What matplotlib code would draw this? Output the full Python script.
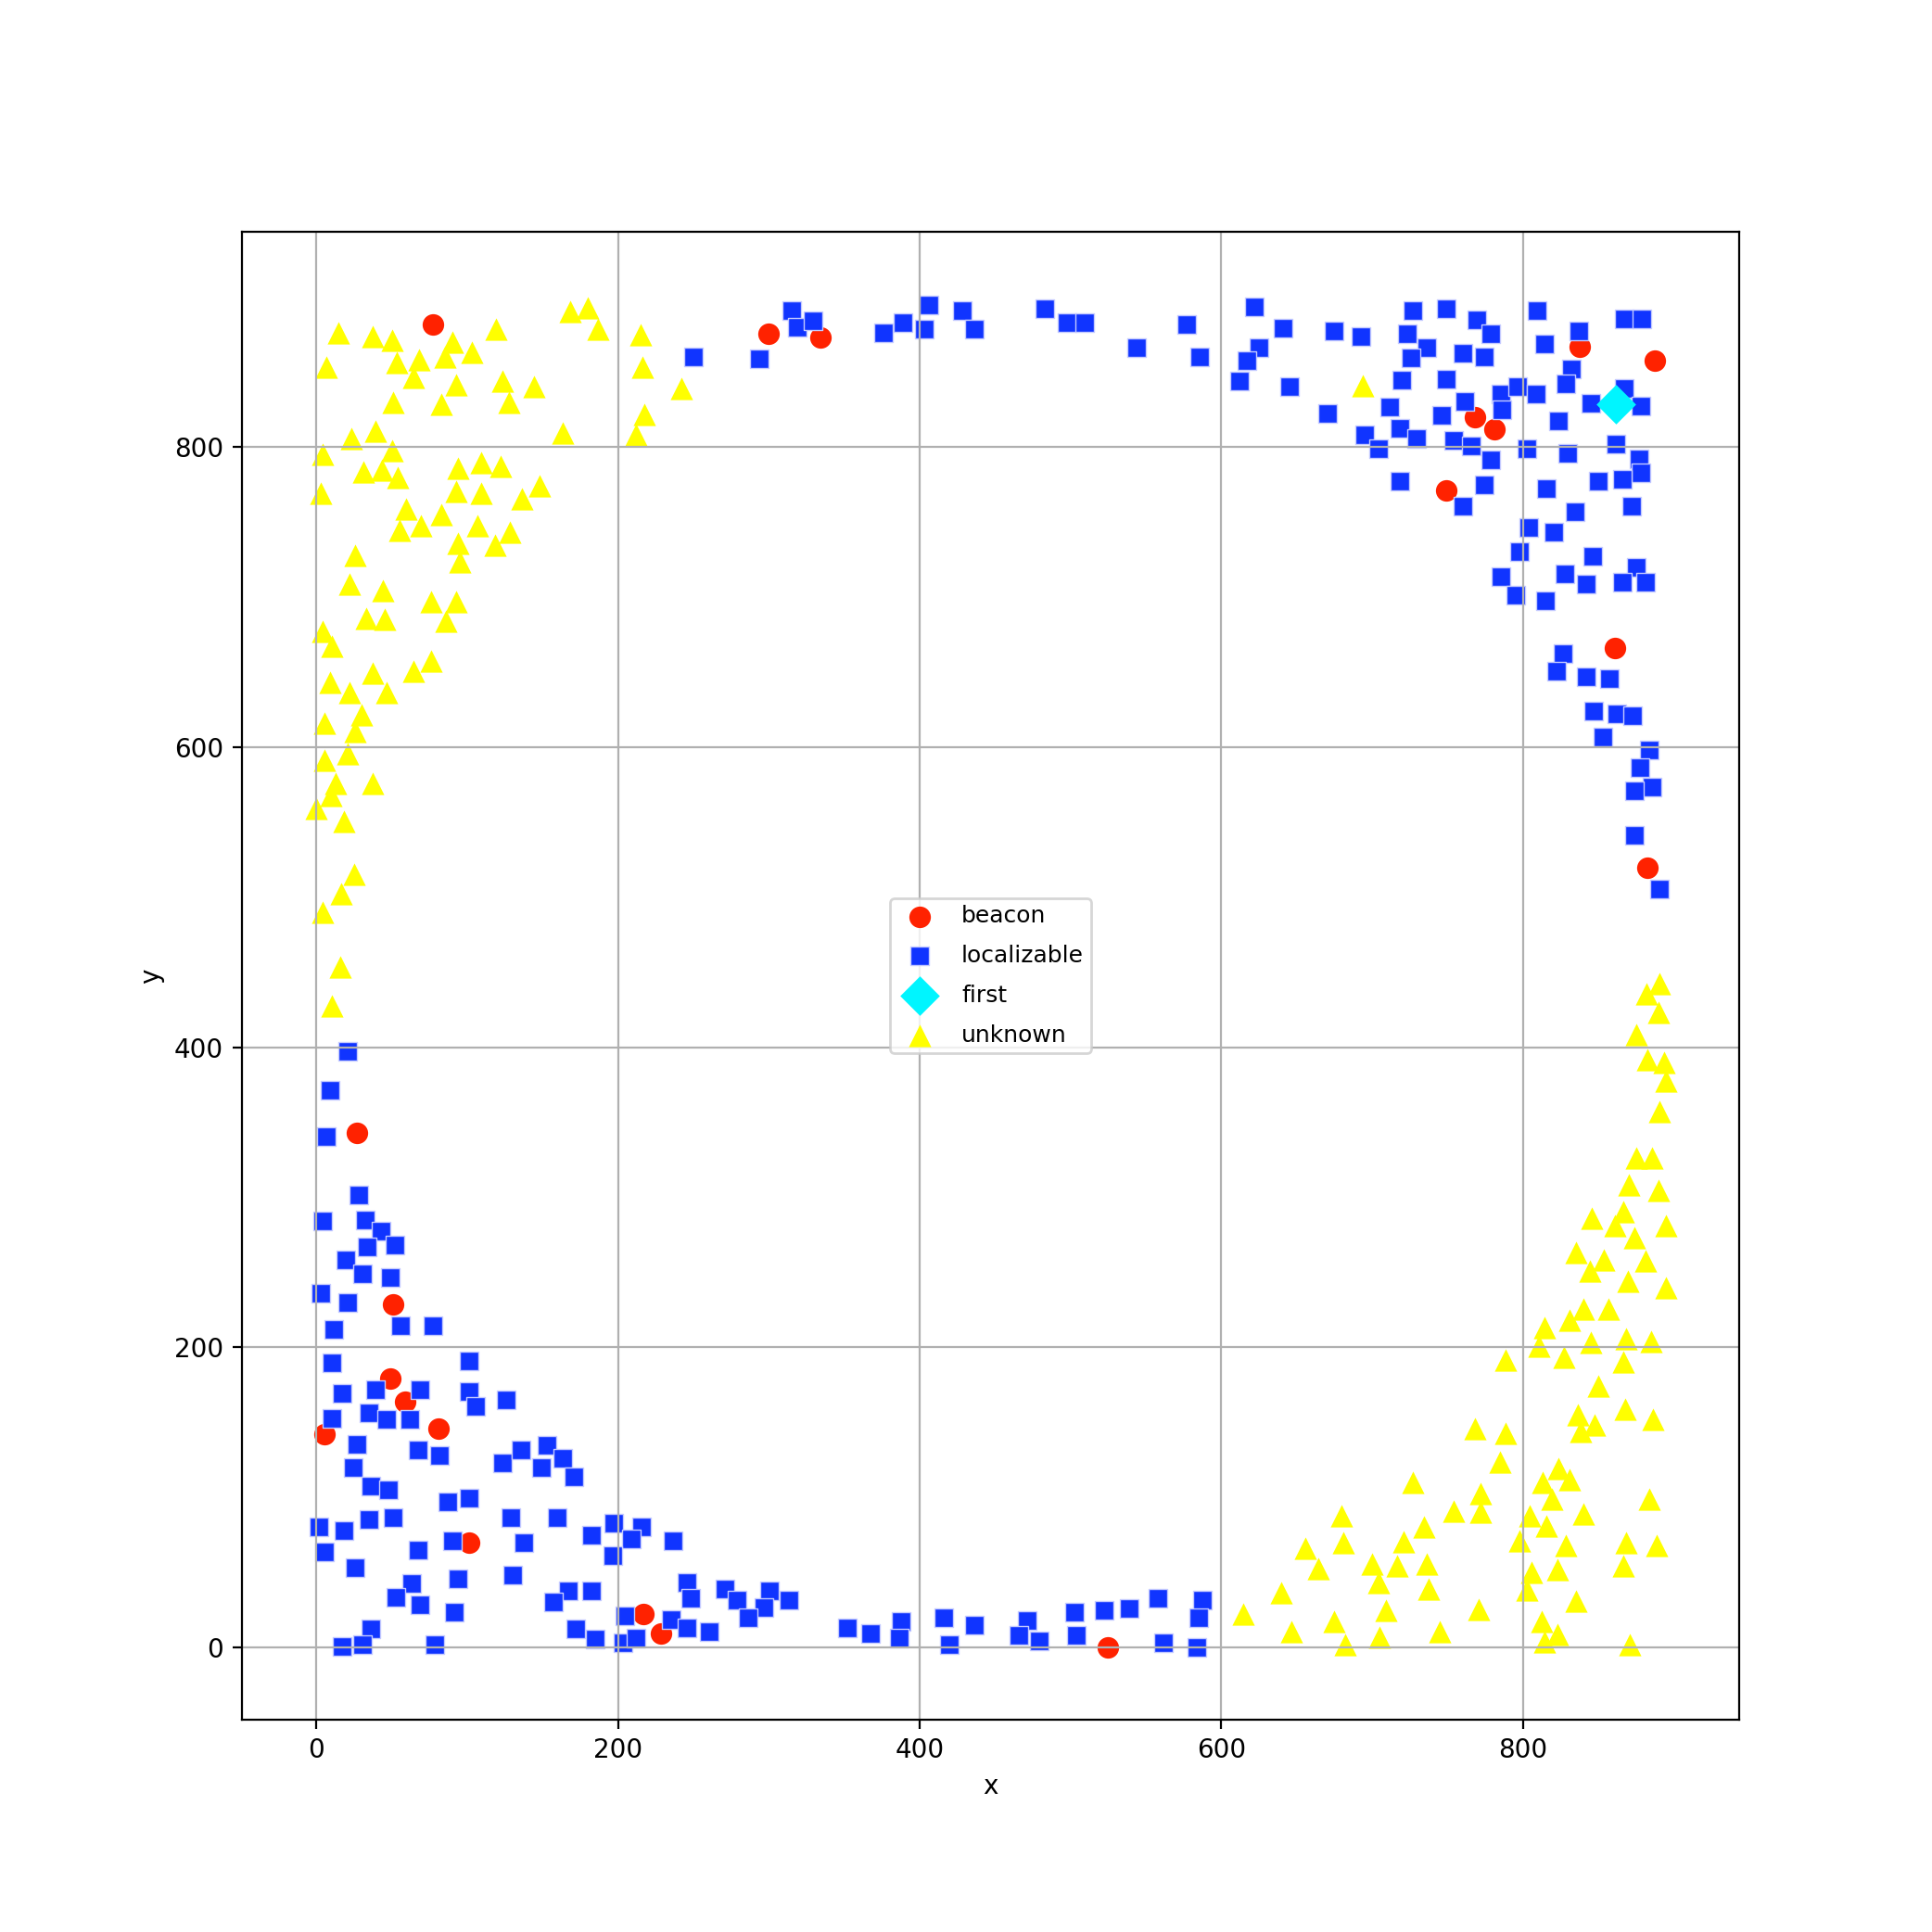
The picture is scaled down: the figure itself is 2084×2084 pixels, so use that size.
import numpy as np
import matplotlib
matplotlib.use("Agg")
import matplotlib.pyplot as plt

# ------------------------------------------------------------------
# Node positions
# ------------------------------------------------------------------
beacon_x = [77.3, 300.0, 334.4, 27.3, 50.7, 49.2, 59.1, 5.7, 81.2, 101.1,
            217.0, 228.5, 524.7, 767.9, 781.0, 748.9, 837.3, 887.3, 861.1, 882.5]
beacon_y = [881.3, 875.2, 872.7, 342.8, 228.5, 179.4, 164.0, 142.0, 145.9, 69.8,
            22.0, 9.3, 0.2, 819.5, 811.9, 770.7, 866.5, 857.2, 666.1, 519.8]

first_x = [861.8]
first_y = [828.4]

local_x = [
    # lower left
    21.1, 9.4, 7.0, 28.5, 4.5, 32.4, 42.7, 33.8, 51.9, 19.5, 30.8, 49.2, 3.1, 21.1,
    11.9, 55.6, 77.3, 101.5, 10.7,
    17.4, 39.0, 68.5, 101.5, 105.6, 126.2, 10.7, 35.3, 46.8, 62.2, 27.3, 67.3, 81.4,
    123.7, 136.0, 152.8, 149.3, 163.3, 170.9, 24.8, 36.3, 47.8, 87.4, 101.5, 1.6,
    18.3, 35.3, 50.7, 128.8, 159.6, 137.4, 67.3, 90.3, 5.7, 26.0, 182.2, 197.5,
    215.8, 209.2, 196.5, 130.0, 63.2, 52.9, 68.5, 94.0, 91.5, 167.0, 182.6, 157.1,
    204.7, 172.3, 185.0, 203.1, 211.7, 36.5, 31.0, 17.2, 78.6,
    # bottom strip
    236.5, 245.5, 248.0, 271.0, 279.0, 300.5, 296.8, 286.4, 313.4, 235.1, 245.5,
    260.7, 351.8, 367.2, 387.9, 386.5, 416.2, 419.9, 436.5, 471.0, 466.0, 479.0,
    502.7, 504.0, 522.3, 539.0, 557.9, 561.6, 587.5, 584.9, 583.8,
    # top strip
    250.3, 293.6, 315.3, 319.1, 329.3, 375.8, 388.8, 402.8, 405.9, 428.3, 436.0,
    483.2, 497.7, 509.2, 543.6, 576.8, 585.7,
    # upper right
    621.9, 641.2, 624.7, 617.0, 611.8, 645.2, 674.7, 692.5, 670.6, 726.7, 748.9,
    723.5, 736.2, 725.8, 769.5, 778.3, 760.4, 774.4, 719.7, 748.9, 711.5, 761.5,
    785.1, 796.4, 786.0, 745.9, 718.1, 729.4, 695.0, 704.1, 754.1, 765.6, 778.3,
    802.5, 809.0, 814.5, 808.8, 837.1, 832.3, 828.5, 823.5, 829.6, 867.0, 878.7,
    867.0, 844.8, 878.3, 861.8, 876.9, 878.3, 865.6, 850.0, 815.4, 718.1, 774.2,
    760.2, 834.6, 871.9, 803.6, 820.4, 797.3, 846.4,
    # right side
    785.4, 827.9, 841.6, 875.3, 866.0, 881.4, 795.1, 814.8, 826.5, 822.4, 841.6,
    857.2, 847.0, 862.4, 872.6, 853.1, 883.9, 877.7, 885.3, 874.1, 874.1, 890.7,
]
local_y = [
    397.4, 371.4, 340.5, 301.8, 284.5, 284.9, 277.5, 267.0, 268.0, 258.1, 249.1,
    246.6, 236.1, 229.9, 211.8, 214.5, 214.5, 190.8, 189.7,
    169.2, 171.6, 171.6, 170.6, 160.9, 165.0, 152.7, 156.4, 152.2, 152.2, 135.2,
    131.5, 127.9, 122.8, 131.5, 134.5, 120.1, 126.3, 113.5, 120.1, 107.3, 104.9,
    96.8, 99.5, 80.1, 77.7, 85.1, 86.3, 86.3, 86.3, 69.8, 64.9, 71.1, 63.7, 53.0,
    75.0, 82.6, 80.5, 72.3, 61.0, 48.0, 42.5, 33.6, 28.6, 45.5, 23.3, 37.7, 37.7,
    30.1, 20.8, 12.2, 5.4, 3.3, 6.0, 12.2, 1.9, 0.6, 1.9,
    70.9, 43.1, 32.8, 38.9, 31.5, 37.9, 26.4, 19.8, 31.5, 18.4, 13.2, 10.5, 13.0,
    9.3, 17.3, 6.0, 19.8, 1.9, 14.6, 17.7, 8.0, 4.3,
    23.5, 8.0, 24.7, 26.0, 32.8, 3.1, 31.5, 19.8, 0.2,
    859.7, 858.7, 890.6, 879.9, 884.0, 876.2, 882.6, 878.7, 894.3, 890.6, 878.7,
    891.8, 882.6, 882.6, 865.9, 881.3, 859.7,
    893.1, 878.9, 865.9, 857.2, 844.1, 840.1, 877.4, 873.7, 822.2, 890.6, 891.8,
    875.2, 865.9, 859.3, 884.4, 875.2, 862.2, 859.7, 844.2, 845.3, 826.3, 830.0,
    835.0, 840.3, 824.7, 820.8, 812.3, 805.3, 807.8, 798.9, 804.1, 800.6, 791.3,
    798.9, 890.6, 868.4, 835.0, 877.4, 851.7, 841.8, 817.1, 795.4, 885.5, 885.5,
    839.1, 828.8, 827.4, 801.6, 792.3, 782.6, 778.3, 777.3, 772.1, 777.3, 774.4,
    760.8, 756.7, 760.8, 746.4, 743.5, 730.5, 727.0,
    713.6, 715.1, 708.9, 719.6, 709.9, 709.9, 701.1, 697.2, 662.5, 650.8, 647.1,
    645.7, 623.8, 622.4, 620.9, 606.9, 598.3, 586.3, 573.5, 570.9, 541.4, 505.6,
]

unknown_x = [
    # top left
    14.6, 37.5, 50.5, 119.4, 168.2, 180.1, 186.7, 214.8, 6.6, 53.7, 68.3, 90.3,
    85.1, 103.0, 64.6, 92.7, 123.5, 144.2, 127.6, 50.7, 82.7, 217.4, 216.4, 211.7,
    163.5, 39.0, 23.2, 50.4, 4.5, 31.2, 43.7, 54.3, 94.0, 109.3, 122.0, 3.1, 92.7,
    109.3, 148.1, 136.4, 59.5, 82.7, 55.4, 69.7, 106.7, 128.6, 93.7, 118.4, 95.4,
    26.0, 22.2, 242.1, 693.7,
    # left side
    44.1, 75.9, 92.7, 86.2, 33.4, 45.5, 4.1, 10.7, 76.3, 64.6, 37.5, 9.2, 22.2,
    46.4, 30.2, 5.5, 26.0, 20.9, 5.3, 12.9, 37.7, 9.6, 0.0, 18.5, 25.0, 16.8, 4.5,
    15.8, 10.7,
    # right side
    890.5, 881.8, 889.5, 875.3, 882.5, 893.5, 894.6, 890.5, 875.1, 885.3, 870.0,
    889.5, 866.5, 845.5, 860.9, 894.6, 873.8, 835.1, 853.5, 881.4, 844.3, 869.7,
    894.6,
    # bottom right
    840.0, 856.5, 830.8, 814.0, 845.1, 868.3, 884.8, 810.4, 827.1, 866.6, 788.4,
    850.0, 836.2, 847.3, 838.2, 867.8, 886.1, 767.9, 788.4, 784.9, 823.2, 830.8,
    812.8, 727.0, 771.7, 819.0, 883.6, 754.0, 771.7, 804.2, 840.0, 679.6, 734.6,
    815.5, 797.5, 720.6, 680.9, 868.3, 888.8, 828.4, 655.9, 700.1, 716.3, 736.1,
    664.0, 805.4, 822.9, 866.6, 704.0, 737.2, 639.7, 802.5, 834.8, 709.1, 614.5,
    770.6, 674.4, 812.6, 646.4, 744.7, 705.0, 822.9, 814.0, 682.2, 870.8,
]
unknown_y = [
    876.2, 873.7, 871.2, 878.4, 890.4, 892.9, 878.2, 874.5, 852.9, 856.2, 858.0,
    870.0, 859.7, 863.2, 846.5, 841.4, 843.8, 840.3, 829.8, 829.8, 828.4, 821.8,
    853.1, 807.8, 809.4, 810.7, 805.3, 797.7, 795.0, 783.5, 784.7, 779.4, 785.7,
    789.7, 787.2, 769.1, 770.3, 769.1, 774.2, 765.3, 758.8, 755.1, 744.6, 747.4,
    747.4, 743.1, 735.7, 734.7, 723.3, 727.9, 708.3, 838.7, 840.5,
    704.3, 697.1, 697.0, 683.8, 685.6, 685.2, 677.0, 667.3, 657.4, 650.8, 649.2,
    643.4, 636.4, 636.4, 621.3, 616.2, 610.6, 595.6, 591.5, 576.0, 575.6, 567.8,
    558.9, 550.3, 515.3, 502.3, 489.9, 453.5, 427.3,
    442.5, 435.3, 423.4, 408.1, 392.0, 389.6, 377.6, 357.2, 326.3, 326.3, 308.2,
    304.5, 290.3, 286.0, 281.0, 281.0, 273.2, 263.3, 258.2, 257.7, 251.1, 243.9,
    239.8,
    225.4, 225.4, 218.2, 213.0, 203.5, 205.8, 204.1, 201.1, 193.3, 190.4, 191.8,
    174.1, 155.1, 148.1, 144.0, 158.8, 152.2, 146.0, 143.0, 123.8, 119.1, 111.9,
    109.8, 109.8, 102.8, 98.7, 99.1, 90.9, 90.4, 87.6, 88.8, 87.8, 80.5, 81.2,
    71.3, 70.7, 69.8, 69.8, 68.2, 68.2, 66.1, 55.4, 54.2, 55.8, 52.7, 50.3, 51.7,
    54.2, 43.1, 38.9, 36.7, 38.3, 31.1, 24.9, 22.4, 25.5, 17.3, 17.3, 10.5, 10.5,
    6.8, 8.8, 3.9, 1.9, 1.9,
]

# ------------------------------------------------------------------
# Plot
# ------------------------------------------------------------------
fig, ax = plt.subplots(figsize=(10.42, 10.42), dpi=200)

ax.scatter(beacon_x, beacon_y, s=70, c='#ff2200', marker='o',
           linewidths=0, label='beacon')
ax.scatter(local_x, local_y, s=48, c='#1034ff', marker='s',
           edgecolors='#c4caff', linewidths=0.5, label='localizable')
ax.scatter(first_x, first_y, s=118, c='#00f5ff', marker='D',
           linewidths=0, label='first')
ax.scatter(unknown_x, unknown_y, s=76, c='#ffff00', marker='^',
           linewidths=0, label='unknown')

ax.set_xlim(-49.5, 943)
ax.set_ylim(-48, 943.3)
ax.set_xlabel('x')
ax.set_ylabel('y')
ax.grid(True)
ax.legend(loc='center', fontsize=9, borderpad=0.3, labelspacing=0.75)

plt.savefig('out.png', dpi=200)
